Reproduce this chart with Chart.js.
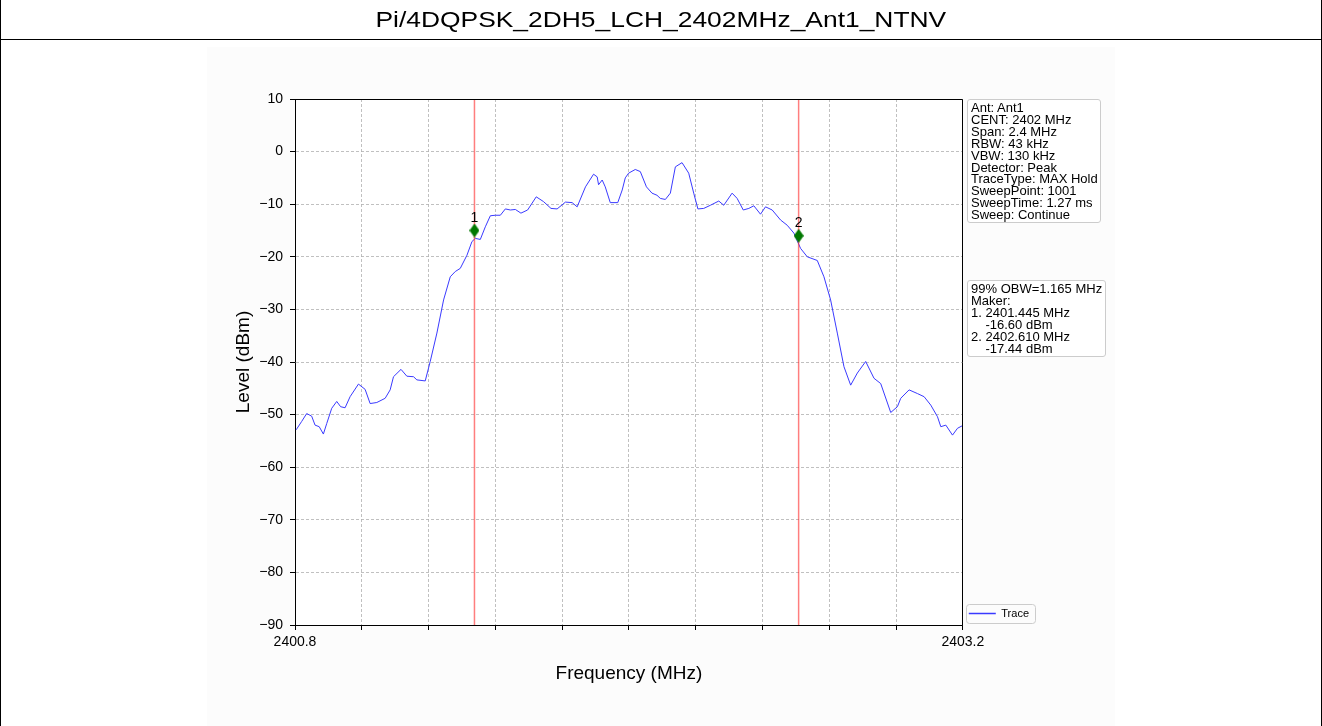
<!DOCTYPE html>
<html>
<head>
<meta charset="utf-8">
<title>Pi/4DQPSK_2DH5_LCH_2402MHz_Ant1_NTNV</title>
<script src="https://cdn.jsdelivr.net/npm/chart.js@4.4.1/dist/chart.umd.min.js"></script>
<style>
    html, body { margin: 0; padding: 0; background: #fff; }
    body { width: 1322px; height: 726px; position: relative; overflow: hidden; font-family: "Liberation Sans", Arial, sans-serif; color: #000; }
    #frame { position: absolute; left: 0; top: 0; width: 1322px; height: 726px; box-sizing: border-box; border-left: 1px solid #000; border-right: 1px solid #000; }
    #title { position: absolute; left: 0; top: 0; width: 1322px; height: 40px; box-sizing: border-box; border-bottom: 1px solid #000; text-align: center; font-size: 22px; line-height: 39px; }
    #title span { display: inline-block; transform: scaleX(1.2); }
    #figbg { position: absolute; left: 207px; top: 47px; width: 908px; height: 679px; background: #fcfcfc; }
    #myChart { position: absolute; left: 0; top: 0; }
    .info { position: absolute; box-sizing: border-box; border: 1px solid #cccccc; border-radius: 3px; background: #fff; font-size: 13px; line-height: 11.9px; padding: 2px 3px; white-space: pre; }
</style>
</head>
<body>
<div id="figbg"></div>
<canvas id="myChart" width="1322" height="726"></canvas>
<div id="frame"></div>
<div id="title"><span>Pi/4DQPSK_2DH5_LCH_2402MHz_Ant1_NTNV</span></div>
<div class="info" id="info-setup" style="left:967px; top:99px; width:134px; height:124px;"></div>
<div class="info" id="info-obw" style="left:967px; top:280px; width:139px; height:77px;"></div>

<script>
// trace (MHz / dBm)
const traceFreq = [
    2400.804, 2400.824, 2400.842, 2400.860, 2400.872, 2400.887, 2400.902, 2400.914, 2400.932, 2400.950,
    2400.964, 2400.980, 2400.998, 2401.028, 2401.052, 2401.070, 2401.094, 2401.124, 2401.142, 2401.154,
    2401.181, 2401.202, 2401.226, 2401.238, 2401.268, 2401.286, 2401.310, 2401.334, 2401.358, 2401.376,
    2401.394, 2401.418, 2401.436, 2401.448, 2401.466, 2401.484, 2401.502, 2401.520, 2401.538, 2401.556,
    2401.574, 2401.592, 2401.612, 2401.636, 2401.667, 2401.693, 2401.720, 2401.742, 2401.772, 2401.796,
    2401.814, 2401.844, 2401.873, 2401.886, 2401.891, 2401.904, 2401.915, 2401.933, 2401.960, 2401.976,
    2401.987, 2401.999, 2402.023, 2402.041, 2402.063, 2402.083, 2402.101, 2402.113, 2402.131, 2402.149,
    2402.167, 2402.191, 2402.215, 2402.233, 2402.248, 2402.269, 2402.293, 2402.323, 2402.341, 2402.371,
    2402.389, 2402.411, 2402.431, 2402.449, 2402.473, 2402.491, 2402.515, 2402.545, 2402.569, 2402.593,
    2402.617, 2402.641, 2402.677, 2402.701, 2402.725, 2402.749, 2402.773, 2402.797, 2402.821, 2402.851,
    2402.881, 2402.905, 2402.941, 2402.965, 2402.977, 2403.007, 2403.037, 2403.061, 2403.085, 2403.109,
    2403.121, 2403.139, 2403.163, 2403.181, 2403.199
];
const traceLevel = [
    -52.9, -51.3, -49.8, -50.3, -52.0, -52.3, -53.7, -51.7, -48.8, -47.5,
    -48.5, -48.7, -46.6, -44.2, -45.2, -47.9, -47.7, -46.9, -45.3, -42.8,
    -41.4, -42.7, -42.8, -43.4, -43.6, -39.9, -34.5, -28.2, -23.8, -22.8,
    -22.2, -19.7, -17.1, -16.5, -16.7, -14.3, -12.2, -12.1, -12.1, -10.9,
    -11.1, -11.0, -11.7, -11.1, -8.6, -9.5, -10.8, -10.9, -9.6, -9.7,
    -10.5, -6.7, -4.3, -4.8, -6.3, -5.4, -6.7, -9.7, -9.7, -7.3,
    -5.0, -4.1, -3.4, -3.8, -6.7, -7.9, -8.3, -8.9, -9.1, -7.9,
    -2.9, -2.1, -4.1, -7.9, -10.9, -10.8, -10.2, -9.4, -10.2, -7.9,
    -8.9, -11.1, -10.8, -10.3, -11.9, -10.5, -11.1, -13.0, -14.0, -15.5,
    -18.4, -20.0, -20.7, -23.8, -28.2, -34.5, -40.9, -44.4, -42.1, -39.9,
    -43.1, -44.1, -49.6, -48.5, -46.9, -45.3, -46.0, -46.6, -48.2, -50.4,
    -52.3, -52.0, -53.9, -52.6, -52.1
];

const markerFreq = [2401.445, 2402.610];
const markerLevel = [-15.0, -16.0];
const markerNames = ['1', '2'];

const xTickValues = [2400.8, 2401.04, 2401.28, 2401.52, 2401.76, 2402.0, 2402.24, 2402.48, 2402.72, 2402.96, 2403.2];
const xTickLabels = ['2400.8', '', '', '', '', '', '', '', '', '', '2403.2'];
const yTickValues = [-90, -80, -70, -60, -50, -40, -30, -20, -10, 0, 10];
const yTickLabels = ['\u221290', '\u221280', '\u221270', '\u221260', '\u221250', '\u221240', '\u221230', '\u221220', '\u221210', '0', '10'];

const setupLines = ['Ant: Ant1', 'CENT: 2402 MHz', 'Span: 2.4 MHz', 'RBW: 43 kHz', 'VBW: 130 kHz', 'Detector: Peak',
    'TraceType: MAX Hold', 'SweepPoint: 1001', 'SweepTime: 1.27 ms', 'Sweep: Continue'];
const obwLines = ['99% OBW=1.165 MHz', 'Maker:', '1. 2401.445 MHz', '    -16.60 dBm', '2. 2402.610 MHz', '    -17.44 dBm'];

window.onload = function() {
    document.getElementById('info-setup').textContent = setupLines.join('\n');
    document.getElementById('info-obw').textContent = obwLines.join('\n');

    Chart.defaults.font.family = '"Liberation Sans", Arial, sans-serif';
    Chart.defaults.color = '#000';

    let yMin = yTickValues[0];
    let yMax = yTickValues[yTickValues.length - 1];
    let traceColor = '#3a3aff';

    // thin diamond like matplotlib's 'd' marker
    let diamond = document.createElement('canvas');
    diamond.width = 10;
    diamond.height = 14;
    let dctx = diamond.getContext('2d');
    dctx.fillStyle = '#007800';
    dctx.beginPath();
    dctx.moveTo(5, 0);
    dctx.lineTo(10, 7);
    dctx.lineTo(5, 14);
    dctx.lineTo(0, 7);
    dctx.closePath();
    dctx.fill();

    let datasets = [{
        label: 'Trace',
        data: traceFreq.map((f, i) => ({x: f, y: traceLevel[i]})),
        borderColor: traceColor,
        backgroundColor: traceColor,
        pointBorderColor: traceColor,
        pointBackgroundColor: traceColor,
        pointBorderWidth: 1.5,
        borderWidth: 1,
        pointRadius: 0,
        tension: 0,
        order: 3
    }];
    markerFreq.forEach(f => {
        datasets.push({
            label: 'marker line',
            data: [{x: f, y: yMin}, {x: f, y: yMax}],
            borderColor: 'rgba(255, 40, 40, 0.6)',
            borderWidth: 1.5,
            pointRadius: 0,
            order: 2
        });
    });
    datasets.push({
        label: 'markers',
        data: markerFreq.map((f, i) => ({x: f, y: markerLevel[i]})),
        showLine: false,
        pointStyle: diamond,
        pointRadius: 7,
        order: 1
    });

    function align(p) {
        return Math.round(p - 0.5) + 0.5;
    }

    const plotPlugin = {
        id: 'plotFrame',
        beforeDraw(chart) {
            let a = chart.chartArea;
            chart.ctx.save();
            chart.ctx.fillStyle = '#fff';
            chart.ctx.fillRect(a.left, a.top, a.right - a.left, a.bottom - a.top);
            chart.ctx.restore();
        },
        afterDatasetsDraw(chart) {
            let ctx = chart.ctx;
            let xs = chart.scales.x, ys = chart.scales.y;
            ctx.save();
            ctx.fillStyle = '#000';
            ctx.font = '14px "Liberation Sans", Arial, sans-serif';
            ctx.textAlign = 'center';
            ctx.textBaseline = 'alphabetic';
            markerFreq.forEach((f, i) => {
                ctx.fillText(markerNames[i], xs.getPixelForValue(f), ys.getPixelForValue(markerLevel[i]) - 9);
            });
            ctx.restore();
        },
        afterDraw(chart) {
            let ctx = chart.ctx;
            let a = chart.chartArea;
            ctx.save();
            // top and right spines (left and bottom come from the axes)
            ctx.strokeStyle = '#000';
            ctx.lineWidth = 1;
            ctx.beginPath();
            ctx.moveTo(align(a.left), align(a.top));
            ctx.lineTo(align(a.right), align(a.top));
            ctx.lineTo(align(a.right), align(a.bottom));
            ctx.stroke();
            // rounded frame round the legend entry
            let hb = chart.legend.legendHitBoxes[0];
            if (hb) {
                ctx.strokeStyle = '#cccccc';
                ctx.beginPath();
                ctx.roundRect(Math.round(hb.left - 3) + 0.5, Math.round(hb.top - 4) + 0.5,
                    Math.round(hb.width + 9), Math.round(hb.height + 8), 3);
                ctx.stroke();
            }
            ctx.restore();
        }
    };

    let ctx = document.getElementById('myChart').getContext('2d');
    new Chart(ctx, {
        type: 'line',
        data: {datasets: datasets},
        plugins: [plotPlugin],
        options: {
            responsive: false,
            animation: false,
            devicePixelRatio: 1,
            events: [],
            layout: {padding: {left: 230, top: 99, right: 283, bottom: 40}},
            plugins: {
                title: {display: false},
                tooltip: {enabled: false},
                legend: {
                    position: 'right',
                    align: 'end',
                    fullSize: false,
                    labels: {
                        usePointStyle: true,
                        pointStyle: 'line',
                        pointStyleWidth: 27,
                        padding: 6,
                        color: '#000',
                        font: {size: 11},
                        filter: item => item.datasetIndex === 0
                    }
                }
            },
            scales: {
                x: {
                    type: 'linear',
                    min: xTickValues[0],
                    max: xTickValues[xTickValues.length - 1],
                    afterBuildTicks: s => { s.ticks = xTickValues.map(v => ({value: v})); },
                    afterFit: s => { s.height = 61; },
                    ticks: {
                        autoSkip: false,
                        maxRotation: 0,
                        padding: 4,
                        color: '#000',
                        font: {size: 14},
                        callback: (v, i) => xTickLabels[i]
                    },
                    grid: {color: '#b0b0b0', lineWidth: 0.8, tickColor: '#000', tickLength: 5, tickWidth: 1, tickBorderDash: []},
                    border: {color: '#000', width: 1, dash: [3, 2]},
                    title: {display: true, text: 'Frequency (MHz)', color: '#000', font: {size: 19}, padding: {top: 0, bottom: 1}}
                },
                y: {
                    type: 'linear',
                    min: yMin,
                    max: yMax,
                    afterBuildTicks: s => { s.ticks = yTickValues.map(v => ({value: v})); },
                    afterFit: s => { s.width = 65; },
                    ticks: {
                        autoSkip: false,
                        padding: 7,
                        color: '#000',
                        font: {size: 14},
                        callback: (v, i) => yTickLabels[i]
                    },
                    grid: {color: '#b0b0b0', lineWidth: 0.8, tickColor: '#000', tickLength: 5, tickWidth: 1, tickBorderDash: []},
                    border: {color: '#000', width: 1, dash: [3, 2]},
                    title: {display: true, text: 'Level (dBm)', color: '#000', font: {size: 19}, padding: {top: 2, bottom: 0}}
                }
            }
        }
    });
};
</script>
</body>
</html>
